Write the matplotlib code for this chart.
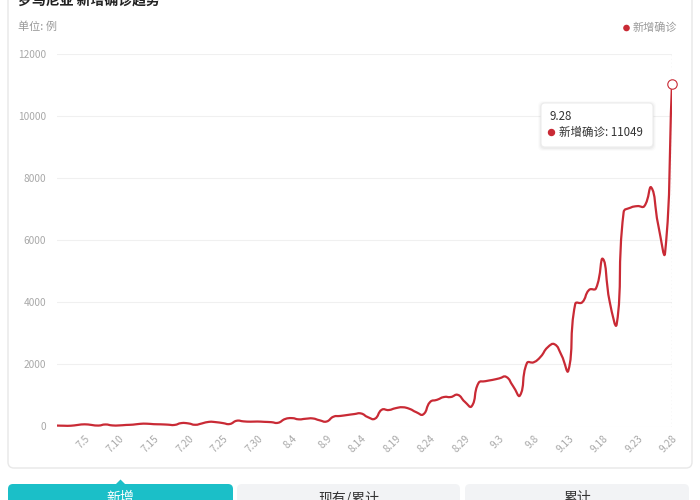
import numpy as np
import pandas as pd
import matplotlib
matplotlib.use('Agg')
import matplotlib.pyplot as plt
from matplotlib.path import Path
from matplotlib.patches import PathPatch, FancyBboxPatch, Polygon, Circle

plt.rcParams['font.family'] = ['Noto Sans CJK SC', 'DejaVu Sans']

# daily labels 7.1 .. 9.28
dates = [f'{d.month}.{d.day}' for d in pd.date_range('2021-07-01', '2021-09-28')]

# new confirmed cases per day
new_cases = [
    30, 25, 25, 50, 70, 50, 30, 65, 35, 35,          # 7.1 - 7.10
    50, 60, 85, 90, 75, 70, 60, 50, 110, 100,        # 7.11 - 7.20
    55, 100, 150, 140, 110, 80, 185, 165, 155, 160,  # 7.21 - 7.30
    150,                                             # 7.31
    140, 120, 240, 270, 230, 250, 260, 200, 160, 315,   # 8.1 - 8.10
    340, 370, 400, 420, 300, 250, 540, 530, 590, 620,   # 8.11 - 8.20
    570, 460, 390, 790, 860, 950, 950, 1020, 800, 650,  # 8.21 - 8.30
    1400,                                               # 8.31
    1460, 1500, 1550, 1600, 1300, 1000, 2040, 2070, 2250, 2550,  # 9.1 - 9.10
    2650, 2300, 1800, 3950, 4000, 4400, 4450, 5400, 4000, 3300,  # 9.11 - 9.20
    6900, 7050, 7100, 7100, 7700, 6500, 5600, 11049,             # 9.21 - 9.28
]

y_ticks = [0, 2000, 4000, 6000, 8000, 10000, 12000]
title = '罗马尼亚 新增确诊趋势'
unit = '单位: 例'
series_name = '新增确诊'
tabs = ['新增', '现有/累计', '累计']

RED = '#c92a35'
TEAL = '#1bbfc8'
GRAY = '#a8a8a8'


def smooth_path(ax, xs, ys, smooth=0.5):
    # echarts-like bezier smoothing, computed in pixel space
    pts = ax.transData.transform(np.column_stack([xs, ys]))
    n = len(pts)
    cp_next, cp_prev = [], []
    for i in range(n):
        p = pts[i]
        prev = pts[i - 1] if i > 0 else p
        nxt = pts[i + 1] if i < n - 1 else p
        v = nxt - prev
        d0 = np.hypot(*(p - prev))
        d1 = np.hypot(*(nxt - p))
        r = d1 / (d0 + d1) if d0 + d1 else 0.5
        cp_next.append(p + v * smooth * r)
        cp_prev.append(p - v * smooth * (1 - r))
    verts = [pts[0]]
    codes = [Path.MOVETO]
    for i in range(n - 1):
        verts += [cp_next[i], cp_prev[i + 1], pts[i + 1]]
        codes += [Path.CURVE4] * 3
    verts = ax.transData.inverted().transform(np.array(verts))
    return Path(verts, codes)


fig = plt.figure(figsize=(7, 5), dpi=100)
W, H = 700, 500

# background layer in pixel coords (origin top-left)
bg = fig.add_axes([0, 0, 1, 1], zorder=0)
bg.set_xlim(0, W)
bg.set_ylim(H, 0)
bg.axis('off')

# card
bg.add_patch(FancyBboxPatch((8, -20), 684, 488, boxstyle='round,pad=0,rounding_size=6',
                            fc='white', ec='#e8e8e8', lw=1))
bg.text(18, 1, title, fontsize=10, fontweight='bold', color='#222', va='center', ha='left')
bg.text(18, 27, unit, fontsize=8, color='#999', va='center', ha='left')
bg.add_patch(Circle((626.5, 28), 2.6, color=RED))
bg.text(633, 28, series_name, fontsize=8, color='#999', va='center', ha='left')

# tabs
tab_x = [(8, 233), (237, 460), (465, 689)]
for i, ((x0, x1), name) in enumerate(zip(tab_x, tabs)):
    fc = TEAL if i == 0 else '#f2f3f5'
    tc = 'white' if i == 0 else '#333'
    bg.add_patch(FancyBboxPatch((x0, 484), x1 - x0, 30, boxstyle='round,pad=0,rounding_size=5',
                                fc=fc, ec='none'))
    bg.text((x0 + x1) / 2, 498, name, fontsize=10, color=tc, ha='center', va='center')
bg.add_patch(Polygon([(115, 485), (120.5, 479.5), (126, 485)], closed=True, fc=TEAL, ec='none'))

# main chart
ax = fig.add_axes([57 / W, 1 - 426.5 / H, (672 - 57) / W, (426.5 - 54) / H], zorder=1)
ax.patch.set_alpha(0)
x = np.arange(len(new_cases))
ax.set_xlim(0, len(new_cases) - 1)
ax.set_ylim(0, 12000)
for s in ax.spines.values():
    s.set_visible(False)

ax.set_yticks(y_ticks)
ax.set_yticklabels([str(v) for v in y_ticks])
ax.yaxis.grid(True, color='#f0f0f0', lw=0.8)
ax.set_axisbelow(True)
ax.tick_params(axis='y', length=0, pad=8, labelsize=7.3, labelcolor=GRAY)

tick_idx = list(range(4, len(dates), 5))
ax.set_xticks(tick_idx)
ax.set_xticklabels([dates[i] for i in tick_idx], rotation=45, ha='right', va='top',
                   rotation_mode='anchor')
ax.tick_params(axis='x', length=0, pad=5, labelsize=7.3, labelcolor=GRAY)

ax.axvline(x[-1], color='#c8c8c8', ls=(0, (1, 2)), lw=0.9, zorder=1)
ax.add_patch(PathPatch(smooth_path(ax, x, new_cases), fc='none', ec=RED, lw=1.6,
                       capstyle='round', joinstyle='round', zorder=2))
ax.plot(x[-1], new_cases[-1], 'o', ms=6.8, mfc='white', mec=RED, mew=0.8, zorder=5,
        clip_on=False)

# tooltip on top
fg = fig.add_axes([0, 0, 1, 1], zorder=3)
fg.set_xlim(0, W)
fg.set_ylim(H, 0)
fg.axis('off')
for k, a in enumerate([0.035, 0.025, 0.015]):
    fg.add_patch(FancyBboxPatch((541 - k - 1, 103 - k), 112 + 2 * k + 2, 44 + 2 * k + 2,
                                boxstyle='round,pad=0,rounding_size=5',
                                fc='black', ec='none', alpha=a))
fg.add_patch(FancyBboxPatch((541, 103), 112, 44, boxstyle='round,pad=0,rounding_size=4',
                            fc='white', ec='#ececec', lw=0.8))
fg.text(549, 117, dates[-1], fontsize=8.3, color='#333', va='center', ha='left')
fg.add_patch(Circle((551.5, 132.5), 3, color=RED))
fg.text(559, 132, f'{series_name}: {new_cases[-1]}', fontsize=8.3, color='#333',
        va='center', ha='left')

fig.savefig('out.png', dpi=100)
